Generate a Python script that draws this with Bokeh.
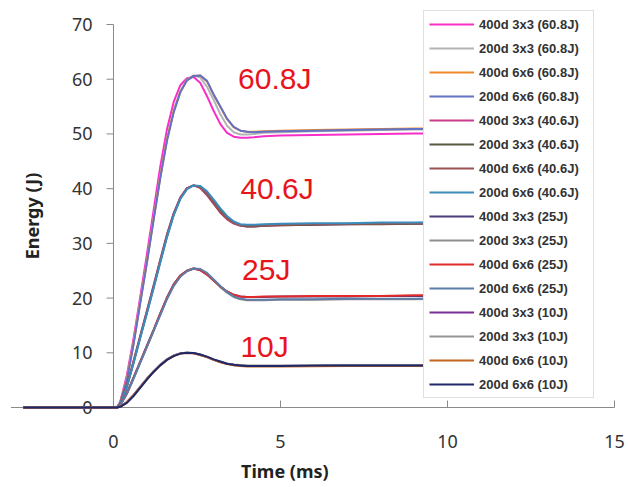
import math
from bokeh.plotting import figure
from bokeh.models import Range1d, Legend, LegendItem
from bokeh.core.properties import value
from bokeh.embed import file_html
from bokeh.resources import INLINE

# ---------------- data ----------------
T = [-2.7, 0.0, 0.1, 0.2, 0.4, 0.6, 0.8, 1.0, 1.2, 1.4, 1.6, 1.8, 2.0, 2.2, 2.4, 2.6,
     2.8, 3.0, 3.2, 3.4, 3.6, 3.8, 4.0, 4.2, 4.5, 5.0, 6.0, 7.0, 8.0, 9.0, 10.0]

e60_400_3x3 = [0, 0, 0, 1.0, 5.9, 12.6, 20.2, 28.0, 36.0, 44.0, 50.8, 55.8, 58.9, 60.2, 60.4, 59.3,
               56.9, 54.2, 51.8, 50.2, 49.5, 49.3, 49.3, 49.4, 49.6, 49.7, 49.8, 49.9, 50.0, 50.1, 50.1]
e60_200_3x3 = [0, 0, 0, 0.9, 5.3, 11.8, 19.4, 26.8, 34.6, 42.3, 49.1, 54.3, 57.8, 59.9, 60.7, 60.3,
               58.6, 56.2, 53.6, 51.5, 50.3, 49.9, 49.9, 50.0, 50.2, 50.3, 50.5, 50.6, 50.7, 50.8, 50.8]
e60_400_6x6 = [0, 0, 0, 0.9, 5.2, 11.7, 19.2, 26.6, 34.4, 42.1, 48.9, 54.1, 57.7, 59.8, 60.6, 60.7,
               59.6, 57.1, 54.9, 52.7, 51.2, 50.6, 50.4, 50.4, 50.5, 50.6, 50.7, 50.8, 50.9, 51.0, 51.0]
e60_200_6x6 = [0, 0, 0, 0.8, 5.0, 11.5, 19.0, 26.4, 34.2, 41.9, 48.7, 53.9, 57.6, 59.8, 60.6, 60.7,
               59.7, 57.2, 55.0, 52.8, 51.3, 50.6, 50.4, 50.3, 50.4, 50.5, 50.6, 50.7, 50.8, 50.9, 50.9]

e40_400_3x3 = [0, 0, 0, 0.7, 4.0, 8.5, 13.1, 17.7, 22.3, 27.0, 31.6, 35.5, 38.4, 40.1, 40.6, 40.1,
               38.8, 37.2, 35.6, 34.4, 33.6, 33.2, 33.1, 33.1, 33.2, 33.3, 33.4, 33.5, 33.6, 33.6, 33.7]
e40_200_3x3 = [0, 0, 0, 0.6, 3.8, 8.2, 12.8, 17.3, 21.9, 26.6, 31.2, 35.2, 38.2, 40.0, 40.6, 40.3,
               39.1, 37.6, 36.0, 34.7, 33.8, 33.3, 33.1, 33.1, 33.2, 33.3, 33.4, 33.5, 33.5, 33.6, 33.6]
e40_400_6x6 = [0, 0, 0, 0.7, 3.9, 8.4, 13.0, 17.6, 22.2, 26.9, 31.5, 35.4, 38.3, 40.1, 40.6, 40.2,
               38.9, 37.3, 35.7, 34.5, 33.7, 33.3, 33.2, 33.2, 33.3, 33.4, 33.5, 33.6, 33.6, 33.7, 33.7]
e40_200_6x6 = [0, 0, 0, 0.6, 3.7, 8.1, 12.7, 17.2, 21.8, 26.5, 31.1, 35.1, 38.1, 39.9, 40.6, 40.5,
               39.5, 38.0, 36.4, 35.0, 34.0, 33.5, 33.4, 33.4, 33.5, 33.6, 33.7, 33.7, 33.8, 33.8, 33.9]

e25_400_3x3 = [0, 0, 0, 0.4, 2.6, 5.5, 8.4, 11.3, 14.2, 17.2, 20.1, 22.5, 24.1, 25.0, 25.4, 25.1,
               24.3, 23.2, 22.1, 21.2, 20.6, 20.3, 20.2, 20.2, 20.2, 20.3, 20.3, 20.3, 20.4, 20.4, 20.4]
e25_200_3x3 = [0, 0, 0, 0.4, 2.5, 5.3, 8.2, 11.1, 14.0, 17.0, 19.9, 22.3, 24.0, 25.0, 25.4, 25.2,
               24.4, 23.2, 22.0, 21.0, 20.2, 19.8, 19.6, 19.6, 19.6, 19.7, 19.7, 19.8, 19.8, 19.8, 19.9]
e25_400_6x6 = [0, 0, 0, 0.4, 2.6, 5.4, 8.3, 11.2, 14.1, 17.1, 20.0, 22.4, 24.1, 25.0, 25.4, 25.1,
               24.3, 23.2, 22.1, 21.2, 20.6, 20.3, 20.2, 20.2, 20.3, 20.3, 20.4, 20.4, 20.4, 20.5, 20.5]
e25_200_6x6 = [0, 0, 0, 0.4, 2.5, 5.3, 8.2, 11.1, 14.0, 16.9, 19.8, 22.2, 23.9, 24.9, 25.4, 25.3,
               24.6, 23.4, 22.2, 21.1, 20.3, 19.9, 19.7, 19.7, 19.7, 19.8, 19.8, 19.9, 19.9, 19.9, 20.0]

e10_400_3x3 = [0, 0, 0, 0.15, 1.0, 2.3, 3.8, 5.3, 6.6, 7.8, 8.8, 9.5, 9.9, 10.0, 9.9, 9.6,
               9.2, 8.7, 8.3, 8.0, 7.8, 7.7, 7.6, 7.6, 7.6, 7.6, 7.6, 7.7, 7.7, 7.7, 7.7]
e10_200_3x3 = [0, 0, 0, 0.15, 0.95, 2.25, 3.75, 5.25, 6.6, 7.8, 8.8, 9.5, 9.9, 10.0, 9.95, 9.65,
               9.25, 8.75, 8.35, 8.05, 7.85, 7.75, 7.7, 7.7, 7.7, 7.7, 7.7, 7.75, 7.75, 7.75, 7.75]
e10_400_6x6 = [0, 0, 0, 0.14, 0.95, 2.2, 3.7, 5.2, 6.5, 7.7, 8.7, 9.4, 9.85, 9.95, 9.9, 9.6,
               9.2, 8.7, 8.25, 7.95, 7.7, 7.6, 7.5, 7.5, 7.5, 7.5, 7.55, 7.6, 7.6, 7.6, 7.6]
e10_200_6x6 = [0, 0, 0, 0.12, 0.85, 2.1, 3.6, 5.1, 6.5, 7.7, 8.7, 9.4, 9.85, 10.0, 9.95, 9.7,
               9.3, 8.8, 8.4, 8.0, 7.8, 7.7, 7.6, 7.6, 7.6, 7.6, 7.7, 7.7, 7.7, 7.7, 7.7]

SERIES_NAMES = [
    "400d 3x3 (60.8J)", "200d 3x3 (60.8J)", "400d 6x6 (60.8J)", "200d 6x6 (60.8J)",
    "400d 3x3 (40.6J)", "200d 3x3 (40.6J)", "400d 6x6 (40.6J)", "200d 6x6 (40.6J)",
    "400d 3x3 (25J)", "200d 3x3 (25J)", "400d 6x6 (25J)", "200d 6x6 (25J)",
    "400d 3x3 (10J)", "200d 3x3 (10J)", "400d 6x6 (10J)", "200d 6x6 (10J)",
]
SERIES_VALUES = [
    e60_400_3x3, e60_200_3x3, e60_400_6x6, e60_200_6x6,
    e40_400_3x3, e40_200_3x3, e40_400_6x6, e40_200_6x6,
    e25_400_3x3, e25_200_3x3, e25_400_6x6, e25_200_6x6,
    e10_400_3x3, e10_200_3x3, e10_400_6x6, e10_200_6x6,
]
SERIES_COLORS = [
    "#f72fc8", "#b4b4b4", "#f08a2a", "#6272c4",
    "#cc3c8e", "#595943", "#9a5252", "#3a8cbc",
    "#4b3b7c", "#8e8e8e", "#e22a2a", "#5e7ca8",
    "#7a2c98", "#959595", "#c4651f", "#1f2868",
]

X_TICKS = [0, 5, 10, 15]
Y_TICKS = [0, 10, 20, 30, 40, 50, 60, 70]
X_AXIS_START = -3.07          # left end of the horizontal axis line (ms)
X_TITLE = "Time (ms)"
Y_TITLE = "Energy (J)"

ANNOT_X = [3.73, 3.8, 3.85, 3.8]
ANNOT_Y = [60.1, 40.0, 25.2, 11.1]
ANNOT_TEXT = ["60.8J", "40.6J", "25J", "10J"]

# ---------------- figure (frame fills the whole canvas) ----------------
W, H = 628, 487
p = figure(width=W, height=H, output_backend="svg", toolbar_location=None, title=None,
           x_range=Range1d(-3.383, 15.419), y_range=Range1d(-14.62, 74.39),
           x_axis_location=None, y_axis_location=None,
           min_border=0, min_border_left=0, min_border_right=0,
           min_border_top=0, min_border_bottom=0)
p.background_fill_color = "white"
p.border_fill_color = "white"
p.outline_line_color = None
p.grid.visible = False

AX = "#8a8a8a"
TICK_FONT = "Noto Sans"
TXT = "#333333"

# horizontal axis (at Energy = 0)
p.segment(x0=[X_AXIS_START], y0=[0], x1=[max(X_TICKS)], y1=[0], line_color=AX, line_width=1)
p.ray(x=X_TICKS, y=[0] * len(X_TICKS), length=7, length_units="screen",
      angle=math.pi / 2, line_color=AX, line_width=1)
p.text(x=X_TICKS, y=[0] * len(X_TICKS), text=[str(v) for v in X_TICKS], y_offset=34,
       text_align="center", text_baseline="middle", text_font=value(TICK_FONT),
       text_font_size="18px", text_color=TXT)

# vertical axis (at Time = 0)
p.segment(x0=[0], y0=[min(Y_TICKS)], x1=[0], y1=[max(Y_TICKS)], line_color=AX, line_width=1)
p.ray(x=[0] * len(Y_TICKS), y=Y_TICKS, length=7, length_units="screen",
      angle=math.pi, line_color=AX, line_width=1)
p.text(x=[0] * len(Y_TICKS), y=Y_TICKS, text=[str(v) for v in Y_TICKS], x_offset=-21,
       text_align="right", text_baseline="middle", text_font=value(TICK_FONT),
       text_font_size="18px", text_color=TXT)

# series
items = []
for name, vals, col in zip(SERIES_NAMES, SERIES_VALUES, SERIES_COLORS):
    r = p.line(T, vals, line_color=col, line_width=2)
    items.append(LegendItem(label=name, renderers=[r]))

# group annotations
p.text(x=ANNOT_X, y=ANNOT_Y, text=ANNOT_TEXT, text_color="#e8141c",
       text_font=value("Liberation Sans"), text_font_size="30px",
       text_align="left", text_baseline="middle")

# axis titles
p.text(x=[5.13], y=[0], text=[X_TITLE], y_offset=63, text_align="center",
       text_baseline="middle", text_font=value(TICK_FONT), text_font_size="18px",
       text_font_style="bold", text_color="#222222")
p.text(x=[-2.43], y=[35], text=[Y_TITLE], angle=math.pi / 2, text_align="center",
       text_baseline="middle", text_font=value(TICK_FONT), text_font_size="18px",
       text_font_style="bold", text_color="#222222")

legend = Legend(items=items, location=(423, 89), padding=5, spacing=8,
                glyph_width=45, glyph_height=16, label_height=16, label_width=109,
                label_standoff=5,
                label_text_font="Liberation Sans", label_text_font_size="13px",
                label_text_font_style="bold", label_text_color="#333333",
                border_line_color="#c0c0c0", border_line_width=1,
                background_fill_color="white", background_fill_alpha=1.0, margin=0)
p.add_layout(legend)

open("out.html", "w").write(file_html(p, INLINE))
